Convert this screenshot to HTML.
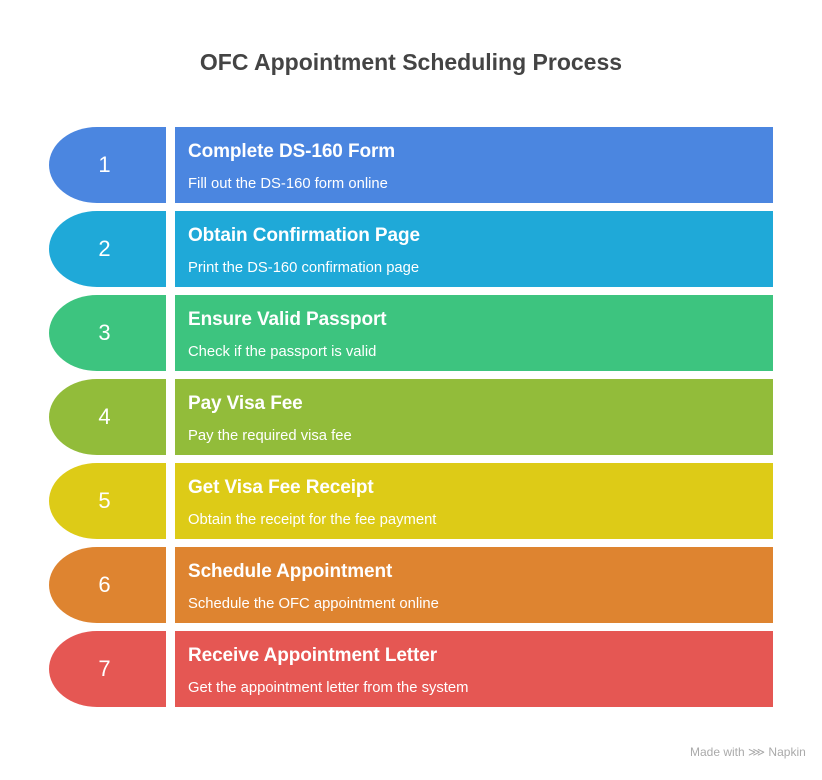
<!DOCTYPE html>
<html><head><style>
body{margin:0;width:822px;height:780px;background:#fff;font-family:"Liberation Sans",sans-serif;position:relative;overflow:hidden}
.t{position:absolute;top:49px;left:0;width:822px;text-align:center;font-size:23px;font-weight:bold;color:#444}
.l{position:absolute;left:49px;width:117px;height:76px;border-radius:48px 0 0 48px/38px 0 0 38px;color:#fff;font-size:22px;display:flex;align-items:center;justify-content:center;box-sizing:border-box;padding-right:6px}
.r{position:absolute;left:175px;width:598px;height:76px;color:#fff}
.r b{position:absolute;left:13px;top:14px;font-size:19px;letter-spacing:-0.1px}
.r span{position:absolute;left:13px;top:49px;font-size:14.8px}
.m{position:absolute;left:690px;top:745px;font-size:12px;color:#aaa}
</style></head><body>
<div class="t">OFC Appointment Scheduling Process</div>
<div class="l" style="top:127px;background:#4B86E0">1</div><div class="r" style="top:127px;background:#4B86E0"><b>Complete DS-160 Form</b><span>Fill out the DS-160 form online</span></div>
<div class="l" style="top:211px;background:#1FA9D8">2</div><div class="r" style="top:211px;background:#1FA9D8"><b>Obtain Confirmation Page</b><span>Print the DS-160 confirmation page</span></div>
<div class="l" style="top:295px;background:#3DC47F">3</div><div class="r" style="top:295px;background:#3DC47F"><b>Ensure Valid Passport</b><span>Check if the passport is valid</span></div>
<div class="l" style="top:379px;background:#92BC3A">4</div><div class="r" style="top:379px;background:#92BC3A"><b>Pay Visa Fee</b><span>Pay the required visa fee</span></div>
<div class="l" style="top:463px;background:#DDCB17">5</div><div class="r" style="top:463px;background:#DDCB17"><b>Get Visa Fee Receipt</b><span>Obtain the receipt for the fee payment</span></div>
<div class="l" style="top:547px;background:#DE8430">6</div><div class="r" style="top:547px;background:#DE8430"><b>Schedule Appointment</b><span>Schedule the OFC appointment online</span></div>
<div class="l" style="top:631px;background:#E55753">7</div><div class="r" style="top:631px;background:#E55753"><b>Receive Appointment Letter</b><span>Get the appointment letter from the system</span></div>
<div class="m">Made with ⋙ Napkin</div>
</body></html>
